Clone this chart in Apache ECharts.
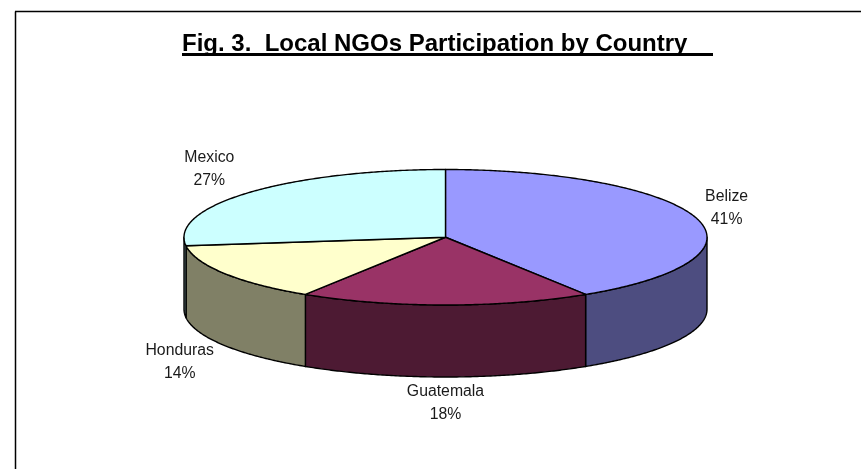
<!DOCTYPE html>
<html>
<head>
<meta charset="utf-8">
<style>html,body{margin:0;padding:0;background:#fff}#c{width:861px;height:469px}</style>
<script src="https://cdn.jsdelivr.net/npm/echarts@6/dist/echarts.min.js"></script>
</head>
<body>
<div id="c"></div>
<script>
const countries = ['Belize', 'Guatemala', 'Honduras', 'Mexico'];
const shares = [41, 18, 14, 27];
const topColors = ['#9999FF', '#993366', '#FFFFCC', '#CCFFFF'];
const sideColors = ['#4D4D80', '#4D1A33', '#808066', '#668080'];
const titleText = 'Fig. 3.  Local NGOs Participation by Country';

const pie = { cx: 445.5, cy: 237.25, rx: 261.5, ry: 67.75, depth: 72 };
const labelOffsets = [[30, -10.5], [0, 26.5], [-45, 16.5], [-40, -23.5]];
const total = shares.reduce((a, b) => a + b, 0);
const rad = d => d * Math.PI / 180;
const pt = (deg, dy) => [pie.cx + pie.rx * Math.sin(rad(deg)), pie.cy - pie.ry * Math.cos(rad(deg)) + (dy || 0)];
function arc(a, b, dy) {
  const out = [], n = Math.max(2, Math.ceil(Math.abs(b - a) * 2));
  for (let i = 0; i <= n; i++) out.push(pt(a + (b - a) * i / n, dy));
  return out;
}
const edge = { stroke: '#000', lineWidth: 1.4, lineJoin: 'round' };

function renderSlice(params, api) {
  const i = params.dataIndex;
  const before = shares.slice(0, i).reduce((a, b) => a + b, 0);
  const a0 = before / total * 360, a1 = (before + shares[i]) / total * 360;
  const children = [];
  const s0 = Math.max(a0, 90), s1 = Math.min(a1, 270);
  if (s1 > s0) {
    children.push({
      type: 'polygon',
      shape: { points: arc(s0, s1, 0).concat(arc(s1, s0, pie.depth)) },
      style: Object.assign({ fill: sideColors[i] }, edge)
    });
  }
  children.push({
    type: 'polygon',
    shape: { points: [[pie.cx, pie.cy]].concat(arc(a0, a1, 0)) },
    style: Object.assign({ fill: topColors[i] }, edge)
  });
  const mid = (a0 + a1) / 2;
  const p = pt(mid, Math.cos(rad(mid)) < 0 ? pie.depth : 0);
  children.push({
    type: 'text',
    z2: 10,
    style: {
      x: p[0] + labelOffsets[i][0],
      y: p[1] + labelOffsets[i][1],
      text: countries[i] + '\n' + shares[i] + '%',
      align: 'center',
      verticalAlign: 'middle',
      font: '15.8px "Liberation Sans", Arial, sans-serif',
      lineHeight: 23,
      fill: '#1a1a1a'
    }
  });
  return { type: 'group', children };
}

const chart = echarts.init(document.getElementById('c'), null, { renderer: 'canvas' });
chart.setOption({
  animation: false,
  backgroundColor: '#ffffff',
  title: {
    text: titleText,
    left: 177,
    top: 27,
    textStyle: { fontFamily: '"Liberation Sans", Arial, sans-serif', fontWeight: 'bold', fontSize: 24, color: '#000' }
  },
  graphic: [
    { type: 'line', shape: { x1: 15.5, y1: 11.5, x2: 15.5, y2: 469 }, style: { stroke: '#000', lineWidth: 1.5 } },
    { type: 'line', shape: { x1: 15, y1: 11.5, x2: 861, y2: 11.5 }, style: { stroke: '#000', lineWidth: 1.5 } },
    { type: 'rect', shape: { x: 182, y: 53, width: 531, height: 3 }, style: { fill: '#000' } }
  ],
  series: [{
    type: 'custom',
    coordinateSystem: 'none',
    renderItem: renderSlice,
    data: countries.map((n, i) => ({ name: n, value: shares[i] })),
    silent: true
  }]
});
</script>
</body>
</html>
